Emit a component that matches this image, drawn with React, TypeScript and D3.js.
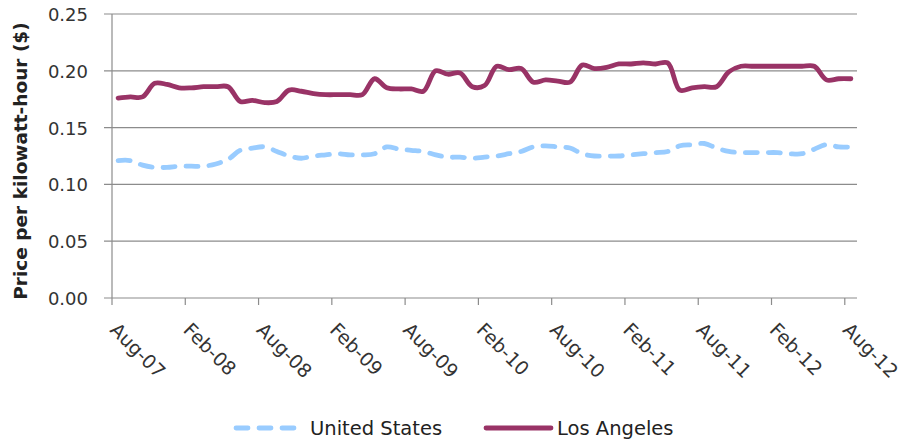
import React, { useEffect, useRef } from "react";
import * as d3 from "d3";

// monthly prices, Aug-07 .. Aug-12
const tickLabels = ["Aug-07", "Feb-08", "Aug-08", "Feb-09", "Aug-09", "Feb-10", "Aug-10", "Feb-11", "Aug-11", "Feb-12", "Aug-12"];
const yTicks = [0, 0.05, 0.1, 0.15, 0.2, 0.25];

const unitedStates = [
  0.121, 0.121, 0.117, 0.115, 0.115, 0.116, 0.116, 0.116, 0.118, 0.122,
  0.130, 0.132, 0.133, 0.129, 0.125, 0.123, 0.125, 0.126, 0.127, 0.126,
  0.126, 0.127, 0.133, 0.131, 0.130, 0.129, 0.126, 0.124, 0.124, 0.123,
  0.124, 0.125, 0.127, 0.129, 0.133, 0.134, 0.133, 0.132, 0.127, 0.125,
  0.125, 0.125, 0.126, 0.127, 0.128, 0.129, 0.134, 0.135, 0.136, 0.132,
  0.129, 0.128, 0.128, 0.128, 0.128, 0.127, 0.127, 0.131, 0.135, 0.133,
  0.133,
];

const losAngeles = [
  0.176, 0.177, 0.177, 0.189, 0.188, 0.185, 0.185, 0.186, 0.186, 0.186,
  0.173, 0.174, 0.172, 0.173, 0.183, 0.182, 0.180, 0.179, 0.179, 0.179,
  0.179, 0.193, 0.185, 0.184, 0.184, 0.182, 0.200, 0.197, 0.198, 0.186,
  0.187, 0.204, 0.201, 0.202, 0.190, 0.192, 0.191, 0.190, 0.205, 0.202,
  0.203, 0.206, 0.206, 0.207, 0.206, 0.207, 0.183, 0.185, 0.186, 0.186,
  0.199, 0.204, 0.204, 0.204, 0.204, 0.204, 0.204, 0.204, 0.192, 0.193,
  0.193,
];

const W = 906, H = 442;
const FONT = "'DejaVu Sans', Verdana, sans-serif";

export default function App() {
  const ref = useRef<SVGSVGElement>(null);

  useEffect(() => {
    const svg = d3.select(ref.current);
    svg.selectAll("*").remove();

    const x = d3.scaleLinear().domain([0, unitedStates.length]).range([112, 857]);
    const y = d3.scaleLinear().domain([0, 0.25]).range([298, 14]);

    // gridlines + y labels
    const grid = svg.append("g");
    grid.selectAll("line")
      .data(yTicks)
      .enter()
      .append("line")
        .attr("x1", 104).attr("x2", 857)
        .attr("y1", d => y(d)).attr("y2", d => y(d))
        .attr("stroke", "#8c8c8c").attr("stroke-width", 1.2);
    grid.selectAll("text")
      .data(yTicks)
      .enter()
      .append("text")
        .attr("x", 88).attr("y", d => y(d) + 7)
        .attr("text-anchor", "end")
        .attr("font-family", FONT).attr("font-size", 18).attr("fill", "#333")
        .text(d => d.toFixed(2));

    // y axis line
    svg.append("line")
      .attr("x1", 112).attr("x2", 112).attr("y1", 14).attr("y2", 298)
      .attr("stroke", "#8c8c8c").attr("stroke-width", 1.2);

    // x ticks + labels
    const xt = svg.append("g");
    const tickIdx = tickLabels.map((_, i) => i * 6);
    xt.selectAll("line")
      .data(tickIdx)
      .enter()
      .append("line")
        .attr("x1", d => x(d)).attr("x2", d => x(d))
        .attr("y1", 298).attr("y2", 305)
        .attr("stroke", "#8c8c8c").attr("stroke-width", 1.2);
    xt.selectAll("text")
      .data(tickLabels)
      .enter()
      .append("text")
        .attr("transform", (d, i) => `translate(${x(i * 6) - 3},331) rotate(45)`)
        .attr("font-family", FONT).attr("font-size", 19).attr("fill", "#333")
        .text(d => d);

    const line = d3.line<number>()
      .x((d, i) => x(i + 0.5))
      .y(d => y(d))
      .curve(d3.curveCatmullRom.alpha(0.5));

    svg.append("path")
      .attr("d", line(unitedStates))
      .attr("fill", "none")
      .attr("stroke", "#99ccff")
      .attr("stroke-width", 4.8)
      .attr("stroke-dasharray", "12 11")
      .attr("stroke-linecap", "round");

    svg.append("path")
      .attr("d", line(losAngeles))
      .attr("fill", "none")
      .attr("stroke", "#993366")
      .attr("stroke-width", 4.8)
      .attr("stroke-linecap", "round")
      .attr("stroke-linejoin", "round");

    // y axis title
    svg.append("text")
      .attr("transform", "translate(27,161) rotate(-90)")
      .attr("text-anchor", "middle")
      .attr("font-family", FONT).attr("font-size", 18.5).attr("font-weight", "bold").attr("fill", "#222")
      .text("Price per kilowatt-hour ($)");

    // legend
    const lg = svg.append("g");
    lg.append("line")
      .attr("x1", 236).attr("x2", 296).attr("y1", 428).attr("y2", 428)
      .attr("stroke", "#99ccff").attr("stroke-width", 4.8)
      .attr("stroke-dasharray", "12 11").attr("stroke-linecap", "round");
    lg.append("text")
      .attr("x", 310).attr("y", 435)
      .attr("font-family", FONT).attr("font-size", 19.5).attr("fill", "#222")
      .text("United States");
    lg.append("line")
      .attr("x1", 486).attr("x2", 551).attr("y1", 428).attr("y2", 428)
      .attr("stroke", "#993366").attr("stroke-width", 4.8).attr("stroke-linecap", "round");
    lg.append("text")
      .attr("x", 557).attr("y", 435)
      .attr("font-family", FONT).attr("font-size", 19.5).attr("fill", "#222")
      .text("Los Angeles");
  }, []);

  return (
    <svg ref={ref} width={W} height={H}
      style={{ position: "absolute", left: 0, top: 0, background: "#fff" }} />
  );
}
